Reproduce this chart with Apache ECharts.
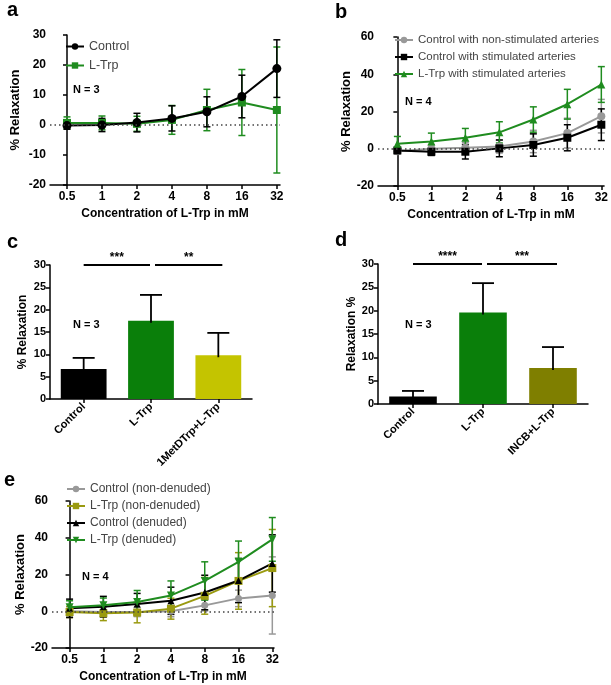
<!DOCTYPE html>
<html>
<head>
<meta charset="utf-8">
<script src="https://cdn.jsdelivr.net/npm/echarts@6/dist/echarts.min.js"></script>
<style>
  html, body { margin: 0; padding: 0; background: #fff; }
  #charts { width: 611px; height: 685px; }
</style>
</head>
<body>
<div id="charts"></div>
<script>
// concentration steps (x axis of a, b, e)
const concLabels = ["0.5", "1", "2", "4", "8", "16", "32"];
const concIndex = concLabels.map((c, i) => i);

// panel a
const aControlMean = [-0.2, 0.0, 0.8, 2.2, 4.4, 9.5, 18.8];
const aControlSem = [1.2, 2.2, 3.1, 4.2, 5.0, 7.1, 9.6];
const aLTrpMean = [0.7, 0.7, 0.4, 1.7, 5.0, 7.5, 5.0];
const aLTrpSem = [2.0, 2.3, 2.5, 4.8, 6.9, 11.0, 21.0];

// panel b
const bNonStimMean = [-1.3, 0.0, 0.5, 1.2, 3.9, 8.4, 17.5];
const bNonStimSem = [1.5, 2.0, 3.0, 3.5, 6.0, 8.0, 9.0];
const bStimMean = [-0.9, -1.6, -1.6, 0.2, 2.0, 5.9, 12.9];
const bStimSem = [1.5, 2.0, 3.9, 4.5, 6.0, 7.0, 8.5];
const bLTrpMean = [2.7, 3.9, 5.9, 8.8, 15.7, 23.9, 34.5];
const bLTrpSem = [3.9, 4.5, 5.0, 5.7, 6.8, 8.0, 9.6];

// panel c
const cCategories = ["Control", "L-Trp", "1MetDTrp+L-Trp"];
const cMean = [6.7, 17.5, 9.8];
const cSem = [2.5, 5.8, 5.0];
const cSigPairs = [[0, 1], [1, 2]];
const cSigLabels = ["***", "**"];

// panel d
const dCategories = ["Control", "L-Trp", "INCB+L-Trp"];
const dMean = [1.6, 19.6, 7.7];
const dSem = [1.2, 6.3, 4.5];
const dSigPairs = [[0, 1], [1, 2]];
const dSigLabels = ["****", "***"];

const sigLevel = 30;

// panel e
const eCtrlNonDenMean = [0.0, -0.4, -0.4, 0.0, 3.2, 7.0, 8.6];
const eCtrlNonDenSem = [2.5, 2.5, 2.5, 3.0, 3.0, 4.5, 21.0];
const eLTrpNonDenMean = [-0.4, -1.1, -0.7, 1.4, 8.4, 16.5, 23.5];
const eLTrpNonDenSem = [3.0, 4.0, 5.6, 5.7, 10.0, 15.4, 21.0];
const eCtrlDenMean = [1.6, 2.5, 3.9, 5.7, 10.2, 16.7, 26.0];
const eCtrlDenSem = [5.0, 5.6, 5.8, 7.4, 9.4, 12.0, 15.6];
const eLTrpDenMean = [2.2, 3.2, 5.0, 8.6, 16.5, 26.9, 39.1];
const eLTrpDenSem = [3.5, 4.0, 6.3, 7.9, 10.4, 11.3, 11.9];

const FONT = "Liberation Sans, Arial, sans-serif";
const GREEN = "#1f8c1f";
const axisLineStyle = { color: "#000", width: 1.5 };

function lineXAxis(gridIndex, min, max) {
  return {
    type: "value", gridIndex: gridIndex, min: min, max: max,
    axisLine: { show: true, onZero: false, lineStyle: axisLineStyle },
    axisTick: { show: true, customValues: concIndex, length: 4, lineStyle: axisLineStyle },
    axisLabel: {
      customValues: concIndex,
      formatter: function(v) { return concLabels[Math.round(v)]; },
      color: "#000", fontWeight: "bold", fontSize: 12, margin: 6
    },
    splitLine: { show: false },
    name: "Concentration of L-Trp in mM", nameLocation: "middle", nameGap: 23,
    nameTextStyle: { color: "#000", fontWeight: "bold", fontSize: 12 }
  };
}

function valueYAxis(gridIndex, min, max, interval, name, nameSize, nameGap, labelSize) {
  return {
    type: "value", gridIndex: gridIndex, min: min, max: max, interval: interval,
    axisLine: { show: true, lineStyle: axisLineStyle },
    axisTick: { show: true, length: 4, lineStyle: axisLineStyle },
    axisLabel: { color: "#000", fontWeight: "bold", fontSize: labelSize, margin: 4 },
    splitLine: { show: false },
    name: name, nameLocation: "middle", nameGap: nameGap,
    nameTextStyle: { color: "#000", fontWeight: "bold", fontSize: nameSize }
  };
}

function barXAxis(gridIndex, cats) {
  return {
    type: "category", gridIndex: gridIndex, data: cats,
    axisLine: { show: true, lineStyle: axisLineStyle },
    axisTick: { show: true, alignWithLabel: true, length: 4, lineStyle: axisLineStyle },
    axisLabel: { rotate: 45, color: "#000", fontWeight: "bold", fontSize: 11, margin: 6, interval: 0 }
  };
}

function lineSeries(name, idx, mean, color, symbol, size, extra) {
  let s = {
    name: name, type: "line", xAxisIndex: idx, yAxisIndex: idx,
    data: mean.map((v, i) => [i, v]),
    symbol: symbol, symbolSize: size,
    itemStyle: { color: color },
    lineStyle: { color: color, width: 2 },
    z: 3
  };
  return Object.assign(s, extra || {});
}

function errSeries(idx, mean, sem, color, capHalf) {
  return {
    type: "custom", xAxisIndex: idx, yAxisIndex: idx,
    itemStyle: { color: color },
    data: mean.map((v, i) => [i, v - sem[i], v + sem[i]]),
    encode: { x: 0, y: [1, 2] },
    z: 3,
    renderItem: function(params, api) {
      const top = api.coord([api.value(0), api.value(2)]);
      const bot = api.coord([api.value(0), api.value(1)]);
      const st = { stroke: color, lineWidth: 1.5 };
      return {
        type: "group",
        children: [
          { type: "line", shape: { x1: top[0], y1: top[1], x2: bot[0], y2: bot[1] }, style: st },
          { type: "line", shape: { x1: top[0] - capHalf, y1: top[1], x2: top[0] + capHalf, y2: top[1] }, style: st },
          { type: "line", shape: { x1: bot[0] - capHalf, y1: bot[1], x2: bot[0] + capHalf, y2: bot[1] }, style: st }
        ]
      };
    }
  };
}

function zeroLine(idx) {
  return {
    type: "line", xAxisIndex: idx, yAxisIndex: idx, data: [], silent: true,
    markLine: {
      silent: true, symbol: "none", label: { show: false },
      lineStyle: { type: [1.5, 3], color: "#444", width: 1.5 },
      data: [{ yAxis: 0 }]
    }
  };
}

function barSeries(idx, mean, colors) {
  return {
    type: "bar", xAxisIndex: idx, yAxisIndex: idx, barWidth: "68%",
    data: mean.map((v, i) => ({ value: v, itemStyle: { color: colors[i] } }))
  };
}

function barErrSeries(idx, mean, sem) {
  return {
    type: "custom", xAxisIndex: idx, yAxisIndex: idx, z: 4,
    data: mean.map((v, i) => [i, v, v + sem[i]]),
    encode: { x: 0, y: [1, 2] },
    renderItem: function(params, api) {
      const top = api.coord([api.value(0), api.value(2)]);
      const bot = api.coord([api.value(0), api.value(1)]);
      const st = { stroke: "#000", lineWidth: 1.8 };
      return {
        type: "group",
        children: [
          { type: "line", shape: { x1: top[0], y1: top[1], x2: bot[0], y2: bot[1] + 2 }, style: st },
          { type: "line", shape: { x1: top[0] - 11, y1: top[1], x2: top[0] + 11, y2: top[1] }, style: st }
        ]
      };
    }
  };
}

function sigSeries(idx, pairs, labels) {
  return {
    type: "custom", xAxisIndex: idx, yAxisIndex: idx, z: 5, clip: false,
    data: pairs.map(p => [p[0], p[1], sigLevel]),
    renderItem: function(params, api) {
      const p0 = api.coord([api.value(0), api.value(2)]);
      const p1 = api.coord([api.value(1), api.value(2)]);
      const x0 = p0[0] + (params.dataIndex === 0 ? 0 : 4);
      const x1 = p1[0] - (params.dataIndex === 0 ? 1 : -4);
      return {
        type: "group",
        children: [
          { type: "line", shape: { x1: x0, y1: p0[1], x2: x1, y2: p0[1] }, style: { stroke: "#000", lineWidth: 1.8 } },
          { type: "text", x: (x0 + x1) / 2, y: p0[1] - 1,
            style: { text: labels[params.dataIndex], align: "center", verticalAlign: "bottom",
                     font: "bold 12px " + FONT, fill: "#000" } }
        ]
      };
    }
  };
}

function legendBox(left, top, names, fontSize, gap) {
  return {
    left: left, top: top, orient: "vertical", data: names,
    itemWidth: 18, itemHeight: 8, itemGap: gap,
    textStyle: { color: "#444", fontSize: fontSize, fontFamily: FONT }
  };
}

function txt(x, y, text, size) {
  return { type: "text", x: x, y: y,
    style: { text: text, font: "bold " + size + "px " + FONT, fill: "#000" } };
}

const chart = echarts.init(document.getElementById("charts"));

const option = {
  animation: false,
  textStyle: { fontFamily: FONT },
  grid: [
    { left: 50, top: 35, width: 230, height: 150 },
    { left: 378, top: 37, width: 231, height: 149 },
    { left: 50, top: 265, width: 202, height: 134 },
    { left: 378, top: 264, width: 210, height: 140 },
    { left: 52, top: 501, width: 222, height: 147 }
  ],
  xAxis: [
    lineXAxis(0, -0.486, 6.09),
    lineXAxis(1, -0.57, 6.08),
    barXAxis(2, cCategories),
    barXAxis(3, dCategories),
    lineXAxis(4, -0.52, 6.05)
  ],
  yAxis: [
    valueYAxis(0, -20, 30, 10, "% Relaxation", 13, 28, 12),
    valueYAxis(1, -20, 60, 20, "% Relaxation", 13, 22, 12),
    valueYAxis(2, 0, 30, 5, "% Relaxation", 12, 21, 11),
    valueYAxis(3, 0, 30, 5, "Relaxation %", 12, 20, 11),
    valueYAxis(4, -20, 60, 20, "% Relaxation", 13, 25, 12)
  ],
  legend: [
    legendBox(60, 35, ["Control", "L-Trp"], 12.5, 6),
    legendBox(389, 29, ["Control with non-stimulated arteries", "Control with stimulated arteries", "L-Trp with stimulated arteries"], 11.5, 5),
    legendBox(61, 478, ["Control (non-denuded)", "L-Trp (non-denuded)", "Control (denuded)", "L-Trp (denuded)"], 12, 5)
  ],
  series: [
    // a
    zeroLine(0),
    errSeries(0, aLTrpMean, aLTrpSem, GREEN, 3.5),
    lineSeries("L-Trp", 0, aLTrpMean, GREEN, "rect", 8),
    errSeries(0, aControlMean, aControlSem, "#000", 3.5),
    lineSeries("Control", 0, aControlMean, "#000", "circle", 9),
    // b
    zeroLine(1),
    errSeries(1, bNonStimMean, bNonStimSem, "#999", 3.5),
    lineSeries("Control with non-stimulated arteries", 1, bNonStimMean, "#999", "circle", 8),
    errSeries(1, bStimMean, bStimSem, "#000", 3.5),
    lineSeries("Control with stimulated arteries", 1, bStimMean, "#000", "rect", 8),
    errSeries(1, bLTrpMean, bLTrpSem, GREEN, 3.5),
    lineSeries("L-Trp with stimulated arteries", 1, bLTrpMean, GREEN, "triangle", 8),
    // c
    barSeries(2, cMean, ["#000000", "#0a7f0a", "#c4c400"]),
    barErrSeries(2, cMean, cSem),
    sigSeries(2, cSigPairs, cSigLabels),
    // d
    barSeries(3, dMean, ["#000000", "#0a7f0a", "#7f7f00"]),
    barErrSeries(3, dMean, dSem),
    sigSeries(3, dSigPairs, dSigLabels),
    // e
    zeroLine(4),
    errSeries(4, eCtrlNonDenMean, eCtrlNonDenSem, "#999", 3.5),
    lineSeries("Control (non-denuded)", 4, eCtrlNonDenMean, "#999", "circle", 7),
    errSeries(4, eLTrpNonDenMean, eLTrpNonDenSem, "#9a9a10", 3.5),
    lineSeries("L-Trp (non-denuded)", 4, eLTrpNonDenMean, "#9a9a10", "rect", 8),
    errSeries(4, eCtrlDenMean, eCtrlDenSem, "#000", 3.5),
    lineSeries("Control (denuded)", 4, eCtrlDenMean, "#000", "triangle", 7),
    errSeries(4, eLTrpDenMean, eLTrpDenSem, GREEN, 3.5),
    lineSeries("L-Trp (denuded)", 4, eLTrpDenMean, GREEN, "triangle", 8, { symbolRotate: 180 })
  ],
  graphic: [
    txt(7, 0, "a", 20),
    txt(335, 2, "b", 20),
    txt(7, 232, "c", 20),
    txt(335, 230, "d", 20),
    txt(4, 470, "e", 20),
    txt(73, 84, "N = 3", 11),
    txt(405, 96, "N = 4", 11),
    txt(73, 319, "N = 3", 11),
    txt(405, 319, "N = 3", 11),
    txt(82, 571, "N = 4", 11)
  ]
};

chart.setOption(option);
window.onresize = function() {
  chart.resize();
};
</script>
</body>
</html>
